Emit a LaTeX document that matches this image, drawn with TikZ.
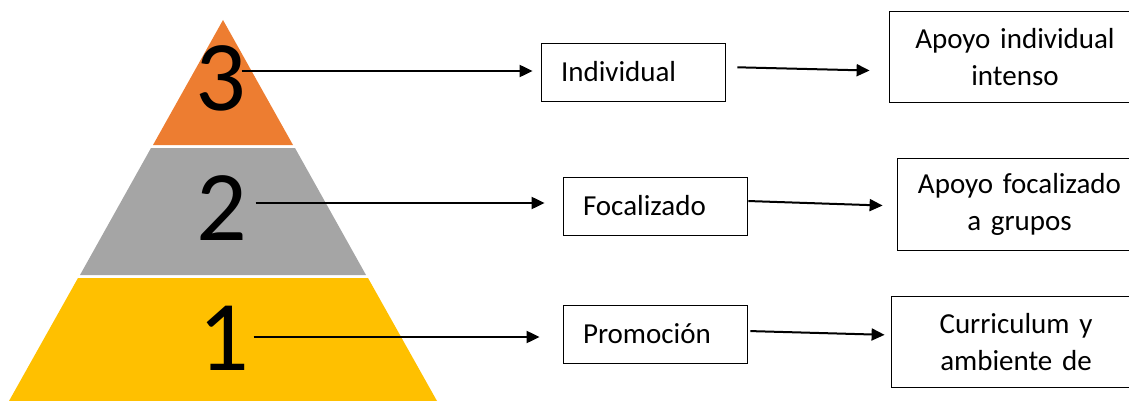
\documentclass[tikz,border=0pt]{standalone}
\usepackage{fontspec}
\setmainfont{Carlito}
\usetikzlibrary{arrows.meta}

\definecolor{tierorange}{HTML}{ED7D31}
\definecolor{tiergray}{HTML}{A5A5A5}
\definecolor{tieryellow}{HTML}{FFC000}

\tikzstyle{lvl} = [inner sep=0pt, font=\fontsize{100}{100}\selectfont]
\tikzstyle{tier} = [rectangle, draw=black, line width=0.8pt, minimum height=58pt, text width=144pt, inner xsep=20pt, align=left, font=\fontsize{29}{37}\selectfont]
\tikzstyle{support} = [rectangle, draw=black, line width=0.8pt, minimum height=91pt, inner xsep=6pt, align=center, font=\fontsize{29}{37}\selectfont]
\tikzstyle{arr} = [-{Triangle[length=13pt,width=12pt]}, line width=2pt]

\begin{document}
\begin{tikzpicture}[x=1pt,y=-1pt]
\useasboundingbox (0,0) rectangle (1129,401);

% pyramid
\fill[tierorange] (223,20) -- (153,145) -- (293,145) -- cycle;
\fill[tiergray] (151,148) -- (295,148) -- (366,275) -- (80,275) -- cycle;
\fill[tieryellow] (78,278) -- (368,278) -- (437,401) -- (9,401) -- cycle;

\node[lvl] (three) at (221,78) {3};
\node[lvl] (two) at (222,208) {2};
\node[lvl] (one) at (224,338) {1};

% levels
\node[tier] (individual) at (633,72) {Individual};
\node[tier] (focalizado) at (655,206) {Focalizado};
\node[tier] (promocion) at (655,334) {Promoción};

% supports
\node[support, text width=240pt] (apoyoInd) at (1015,57) {Apoyo individual\\intenso};
\node[support, text width=233pt, minimum height=92pt] (apoyoFoc) at (1019.5,204) {Apoyo focalizado\\a grupos};
\node[support, text width=238pt] (curriculum) at (1016,342) {Curriculum y\\ambiente de};

\draw[arr, shorten >=8pt] ([xshift=-5pt,yshift=7pt]three.east) -- ([yshift=1pt]individual.west);
\draw[arr, shorten >=18pt] ([xshift=8pt,yshift=5pt]two.east) -- ([yshift=3pt]focalizado.west);
\draw[arr, shorten >=23pt] ([xshift=4pt,yshift=1pt]one.east) -- ([yshift=-3pt]promocion.west);

\draw[arr, shorten <=12pt, shorten >=19pt] ([yshift=5pt]individual.east) -- ([yshift=-14pt]apoyoInd.west);
\draw[arr, shorten <=1pt, shorten >=14pt] ([yshift=5pt]focalizado.east) -- ([yshift=-2pt]apoyoFoc.west);
\draw[arr, shorten <=3pt, shorten >=6pt] ([yshift=3pt]promocion.east) -- ([yshift=7pt]curriculum.west);

\end{tikzpicture}
\end{document}
